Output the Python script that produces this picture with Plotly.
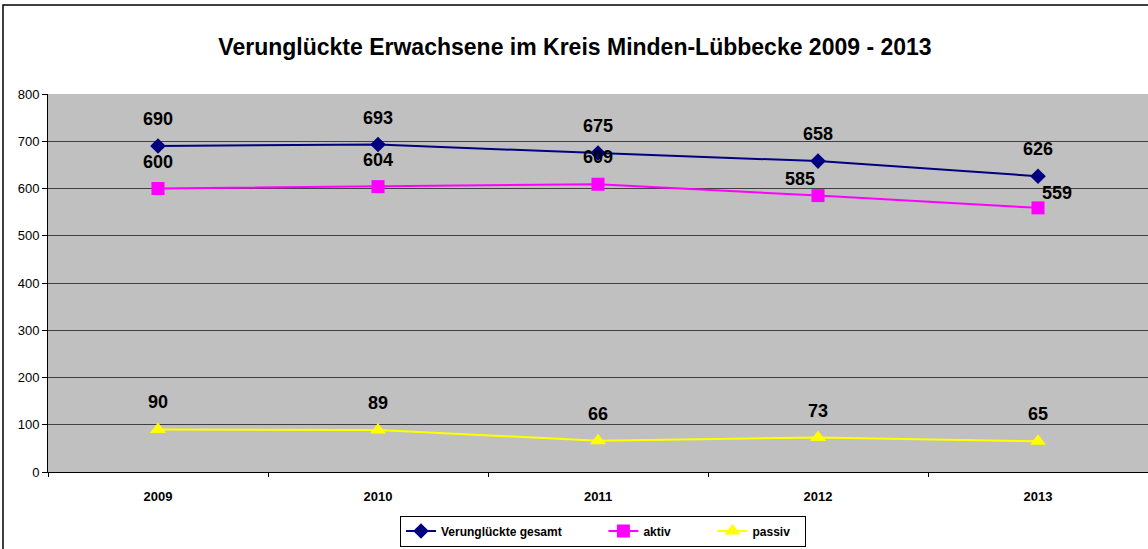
import plotly.graph_objects as go

years = ["2009", "2010", "2011", "2012", "2013"]
gesamt = [690, 693, 675, 658, 626]
aktiv = [600, 604, 609, 585, 559]
passiv = [90, 89, 66, 73, 65]
y_ticks = [0, 100, 200, 300, 400, 500, 600, 700, 800]

title = "Verunglückte Erwachsene im Kreis Minden-Lübbecke 2009 - 2013"

W, H = 1148, 549
L, R, T, B = 48, 0, 94, 77

NB = "&nbsp;" * 11
fig = go.Figure()
fig.add_trace(go.Scatter(x=years, y=gesamt, mode="lines+markers",
                         name="<b>Verunglückte gesamt</b>" + NB,
                         line=dict(color="#000080", width=2),
                         marker=dict(symbol="diamond", size=12, color="#000080")))
fig.add_trace(go.Scatter(x=years, y=aktiv, mode="lines+markers", name="<b>aktiv</b>" + NB,
                         line=dict(color="#FF00FF", width=2),
                         marker=dict(symbol="square", size=13, color="#FF00FF")))
fig.add_trace(go.Scatter(x=years, y=passiv, mode="lines+markers",
                         name="<b>passiv</b>" + "&nbsp;" * 3,
                         line=dict(color="#FFFF00", width=2),
                         marker=dict(symbol="triangle-up", size=14, color="#FFFF00")))

# label offsets (px) for labels that sit off their default position
special = {("aktiv", 4): (19, 15), ("aktiv", 3): (-18, 17)}
lab_font = dict(family="Liberation Sans, Arial", size=18, color="black")
for key, series in (("gesamt", gesamt), ("aktiv", aktiv), ("passiv", passiv)):
    for i, v in enumerate(series):
        xs, ys = special.get((key, i), (0, 27))
        fig.add_annotation(x=i, y=v, xref="x", yref="y", text="<b>%d</b>" % v,
                           showarrow=False, xshift=xs, yshift=ys, font=lab_font)

fig.update_layout(
    width=W, height=H,
    margin=dict(l=L, r=R, t=T, b=B, pad=0),
    paper_bgcolor="white",
    plot_bgcolor="#C0C0C0",
    title=dict(text="<b>" + title + "</b>", x=575 / W, xanchor="center",
               y=1 - 47 / H, yanchor="middle",
               font=dict(family="Liberation Sans, Arial", size=23, color="black")),
    xaxis=dict(type="category", categoryorder="array", categoryarray=years,
               range=[-0.5, 4.5], tickson="boundaries", ticks="outside", ticklen=4,
               tickcolor="black", showline=True, linecolor="black", linewidth=1,
               showgrid=False, tickmode="array", tickvals=years,
               ticktext=["<b>%s</b>" % y for y in years], ticklabelstandoff=12,
               tickfont=dict(family="Liberation Sans, Arial", size=13, color="black"),
               zeroline=False),
    yaxis=dict(range=[0, 800], tickvals=y_ticks, ticks="outside", ticklen=5,
               tickcolor="black", showline=True, linecolor="black", linewidth=1,
               showgrid=True, gridcolor="#404040", gridwidth=1, zeroline=False,
               tickfont=dict(family="Liberation Sans, Arial", size=13, color="black")),
    showlegend=True,
    legend=dict(orientation="h", x=(603 - L) / 1100, xanchor="center",
                y=-(531 - 472) / 378, yanchor="middle",
                bgcolor="white", bordercolor="black", borderwidth=1,
                font=dict(family="Liberation Sans, Arial", size=12, color="black"),
                itemwidth=30),
)

# outer chart border
fig.add_shape(type="rect", xref="paper", yref="paper",
              x0=(3 - L) / 1100, x1=1.02, y0=-0.3, y1=(472 - 5) / 378,
              line=dict(color="black", width=1.5), fillcolor="rgba(0,0,0,0)", layer="below")

fig.write_html("out.html", config={"displayModeBar": False},
               post_script="document.body.style.margin='0';")
